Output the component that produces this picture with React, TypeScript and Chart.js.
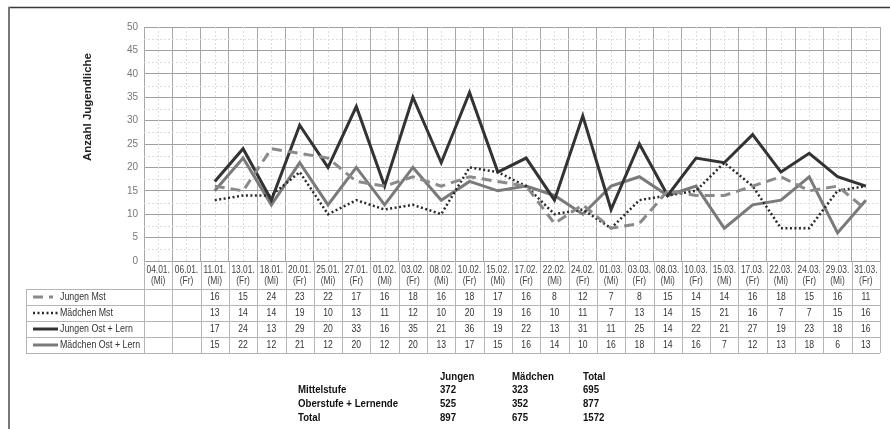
import React, { useEffect, useRef } from 'react';
import { Chart, registerables } from 'chart.js';

Chart.register(...registerables);

const dates = ['04.01.', '06.01.', '11.01.', '13.01.', '18.01.', '20.01.', '25.01.', '27.01.', '01.02.', '03.02.', '08.02.', '10.02.', '15.02.', '17.02.', '22.02.', '24.02.', '01.03.', '03.03.', '08.03.', '10.03.', '15.03.', '17.03.', '22.03.', '24.03.', '29.03.', '31.03.'];
const days = ['(Mi)', '(Fr)', '(Mi)', '(Fr)', '(Mi)', '(Fr)', '(Mi)', '(Fr)', '(Mi)', '(Fr)', '(Mi)', '(Fr)', '(Mi)', '(Fr)', '(Mi)', '(Fr)', '(Mi)', '(Fr)', '(Mi)', '(Fr)', '(Mi)', '(Fr)', '(Mi)', '(Fr)', '(Mi)', '(Fr)'];

const jungenMst = [null, null, 16, 15, 24, 23, 22, 17, 16, 18, 16, 18, 17, 16, 8, 12, 7, 8, 15, 14, 14, 16, 18, 15, 16, 11];
const maedchenMst = [null, null, 13, 14, 14, 19, 10, 13, 11, 12, 10, 20, 19, 16, 10, 11, 7, 13, 14, 15, 21, 16, 7, 7, 15, 16];
const jungenOst = [null, null, 17, 24, 13, 29, 20, 33, 16, 35, 21, 36, 19, 22, 13, 31, 11, 25, 14, 22, 21, 27, 19, 23, 18, 16];
const maedchenOst = [null, null, 15, 22, 12, 21, 12, 20, 12, 20, 13, 17, 15, 16, 14, 10, 16, 18, 14, 16, 7, 12, 13, 18, 6, 13];

const seriesNames = ['Jungen Mst', 'Mädchen Mst', 'Jungen Ost + Lern', 'Mädchen Ost + Lern'];
const yTitle = 'Anzahl Jugendliche';
const yMin = 0;
const yMax = 50;
const yStep = 5;

const summaryCols = ['Jungen', 'Mädchen', 'Total'];
const summaryRows = ['Mittelstufe', 'Oberstufe + Lernende', 'Total'];
const summaryMittel = [372, 323, 695];
const summaryOber = [525, 352, 877];
const summaryTotal = [897, 675, 1572];

const FONT = "'Liberation Sans', Arial, sans-serif";

function drawText(ctx: CanvasRenderingContext2D, text: string, x: number, y: number, align: CanvasTextAlign, sx: number) {
  ctx.save();
  ctx.translate(x, y);
  ctx.scale(sx, 1);
  ctx.textAlign = align;
  ctx.textBaseline = 'middle';
  ctx.fillText(text, 0, 0);
  ctx.restore();
}

const minorGridPlugin = {
  id: 'minorGrid',
  beforeDatasetsDraw(chart: any) {
    const { ctx, chartArea: ca, scales } = chart;
    const x = scales.x;
    const y = scales.y;
    ctx.save();
    ctx.strokeStyle = '#dcdcdc';
    ctx.lineWidth = 1;
    ctx.setLineDash([2, 2]);
    const n = chart.data.labels.length;
    for (let i = 0; i < n; i++) {
      const px = Math.round(x.getPixelForValue(i)) + 0.5;
      ctx.beginPath();
      ctx.moveTo(px, ca.top);
      ctx.lineTo(px, ca.bottom);
      ctx.stroke();
    }
    for (let v = yMin + yStep / 2; v < yMax; v += yStep) {
      const py = Math.round(y.getPixelForValue(v)) + 0.5;
      ctx.beginPath();
      ctx.moveTo(ca.left, py);
      ctx.lineTo(ca.right, py);
      ctx.stroke();
    }
    ctx.restore();
  },
};

const tablePlugin = {
  id: 'dataTable',
  afterDraw(chart: any) {
    const { ctx, chartArea: ca, scales } = chart;
    const x = scales.x;
    const labels = chart.data.labels as string[][];
    const n = labels.length;
    const colW = x.getPixelForValue(1) - x.getPixelForValue(0);
    const headerTop = ca.bottom;
    const headerBottom = ca.bottom + 28;
    const rowH = 16;
    const legendLeft = 26;
    const tableBottom = headerBottom + rowH * 4;

    ctx.save();
    // frame of the whole chart object
    ctx.strokeStyle = '#3a3a3a';
    ctx.lineWidth = 1.5;
    ctx.beginPath();
    ctx.moveTo(8, 7.5);
    ctx.lineTo(890, 7.5);
    ctx.stroke();
    ctx.strokeStyle = '#777';
    ctx.lineWidth = 2;
    ctx.beginPath();
    ctx.moveTo(9, 7);
    ctx.lineTo(9, 429);
    ctx.stroke();

    // table grid
    ctx.strokeStyle = '#b5b5b5';
    ctx.lineWidth = 1;
    for (let r = 0; r <= 4; r++) {
      const py = Math.round(headerBottom + r * rowH) + 0.5;
      ctx.beginPath();
      ctx.moveTo(legendLeft, py);
      ctx.lineTo(ca.right, py);
      ctx.stroke();
    }
    for (let i = 0; i <= n; i++) {
      const px = Math.round(x.getPixelForValue(0) - colW / 2 + i * colW) + 0.5;
      ctx.beginPath();
      ctx.moveTo(px, headerTop);
      ctx.lineTo(px, tableBottom);
      ctx.stroke();
    }
    ctx.beginPath();
    ctx.moveTo(legendLeft + 0.5, headerBottom);
    ctx.lineTo(legendLeft + 0.5, tableBottom);
    ctx.stroke();

    // header labels
    ctx.fillStyle = '#444';
    ctx.font = `10.5px ${FONT}`;
    for (let i = 0; i < n; i++) {
      const cx = x.getPixelForValue(i);
      drawText(ctx, labels[i][0], cx, headerTop + 9.5, 'center', 0.8);
      drawText(ctx, labels[i][1], cx, headerTop + 20.5, 'center', 0.8);
    }

    // rows
    chart.data.datasets.forEach((ds: any, r: number) => {
      const cy = headerBottom + r * rowH + rowH / 2;
      // legend key
      ctx.save();
      ctx.strokeStyle = ds.borderColor;
      ctx.lineWidth = ds.borderWidth;
      ctx.setLineDash(ds.borderDash || []);
      ctx.beginPath();
      const keyEnd = r === 0 ? 53 : 58;
      ctx.moveTo(33, cy);
      ctx.lineTo(keyEnd, cy);
      ctx.stroke();
      ctx.restore();
      ctx.fillStyle = '#333';
      ctx.font = `10.5px ${FONT}`;
      drawText(ctx, ds.label, 60, cy, 'left', 0.84);
      ds.data.forEach((v: number | null, i: number) => {
        if (v === null || v === undefined) return;
        drawText(ctx, String(v), x.getPixelForValue(i), cy + 0.5, 'center', 0.82);
      });
    });

    // y title
    ctx.save();
    ctx.fillStyle = '#222';
    ctx.font = `bold 11.5px ${FONT}`;
    ctx.translate(88, 107);
    ctx.rotate(-Math.PI / 2);
    ctx.textAlign = 'center';
    ctx.textBaseline = 'middle';
    ctx.fillText(yTitle, 0, 0);
    ctx.restore();

    // summary table
    ctx.fillStyle = '#111';
    ctx.font = `bold 10.5px ${FONT}`;
    const colX = [440, 512, 583];
    summaryCols.forEach((c, j) => drawText(ctx, c, colX[j], 377, 'left', 0.92));
    const rowsVals = [summaryMittel, summaryOber, summaryTotal];
    const rowY = [390, 404, 418];
    summaryRows.forEach((name, r) => {
      drawText(ctx, name, 298, rowY[r], 'left', 0.92);
      rowsVals[r].forEach((v, j) => drawText(ctx, String(v), colX[j], rowY[r], 'left', 0.92));
    });
    ctx.restore();
  },
};

export default function App() {
  const ref = useRef<HTMLCanvasElement | null>(null);

  useEffect(() => {
    if (!ref.current) return;
    const chart = new Chart(ref.current, {
      type: 'line',
      data: {
        labels: dates.map((d, i) => [d, days[i]]),
        datasets: [
          {
            label: seriesNames[0],
            data: jungenMst,
            borderColor: '#8a8a8a',
            borderWidth: 3,
            borderDash: [10, 6],
            pointRadius: 0,
            tension: 0,
          },
          {
            label: seriesNames[1],
            data: maedchenMst,
            borderColor: '#2a2a2a',
            borderWidth: 2.5,
            borderDash: [2, 2.5],
            pointRadius: 0,
            tension: 0,
          },
          {
            label: seriesNames[2],
            data: jungenOst,
            borderColor: '#333333',
            borderWidth: 3,
            pointRadius: 0,
            tension: 0,
          },
          {
            label: seriesNames[3],
            data: maedchenOst,
            borderColor: '#7a7a7a',
            borderWidth: 3,
            pointRadius: 0,
            tension: 0,
          },
        ],
      },
      options: {
        animation: false,
        responsive: false,
        maintainAspectRatio: false,
        devicePixelRatio: 1,
        layout: { padding: { left: 0, top: 27, right: 10, bottom: 0 } },
        plugins: {
          legend: { display: false },
          tooltip: { enabled: false },
        },
        scales: {
          x: {
            type: 'category',
            offset: true,
            grid: { offset: true, color: '#a8a8a8', drawTicks: false },
            border: { display: true, color: '#a0a0a0' },
            ticks: { display: false },
            afterFit: (scale: any) => {
              scale.height = 168;
            },
          },
          y: {
            min: yMin,
            max: yMax,
            ticks: {
              stepSize: yStep,
              padding: 6,
              color: '#777',
              font: { family: FONT, size: 10 },
            },
            grid: { color: '#a0a0a0', drawTicks: false },
            border: { display: true, color: '#a8a8a8' },
            afterFit: (scale: any) => {
              scale.width = 144;
            },
          },
        },
      },
      plugins: [minorGridPlugin, tablePlugin],
    } as any);
    return () => chart.destroy();
  }, []);

  return (
    <div style={{ position: 'fixed', left: 0, top: 0, width: 890, height: 429, background: '#fff' }}>
      <canvas ref={ref} width={890} height={429} style={{ width: 890, height: 429, display: 'block' }} />
    </div>
  );
}
